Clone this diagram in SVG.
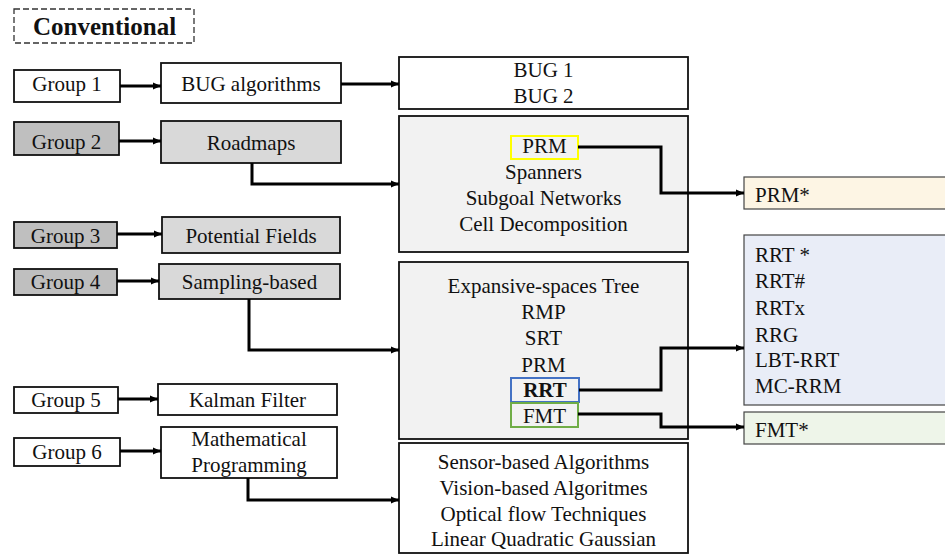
<svg xmlns="http://www.w3.org/2000/svg" width="945" height="555" viewBox="0 0 945 555">
  <defs>
    <marker id="arrow" markerUnits="userSpaceOnUse" markerWidth="9" markerHeight="8" refX="8" refY="4" orient="auto">
      <path d="M0,0.5 L8,4 L0,7.5 z" fill="#000"/>
    </marker>
    <style>
      text { font-family: "Liberation Serif", "Times New Roman", serif; font-size: 21px; fill: #111; }
      .c { text-anchor: middle; }
      .box { stroke: #111; stroke-width: 1.8; }
      .white { fill: #fff; }
      .dark { fill: #bfbfbf; }
      .mid { fill: #d9d9d9; }
      .light { fill: #f2f2f2; }
      .side { stroke: #444; stroke-width: 1.2; }
      .conn { fill: none; stroke: #000; stroke-width: 3; marker-end: url(#arrow); }
    </style>
  </defs>

  <rect width="945" height="555" fill="#fff"/>

  <!-- heading -->
  <g id="heading">
    <rect x="14" y="9" width="180" height="34" fill="none" stroke="#333" stroke-width="1.3" stroke-dasharray="6,3"/>
    <text x="33" y="35" style="font-size:25px;font-weight:bold">Conventional</text>
  </g>

  <!-- group labels -->
  <g id="group1"><rect class="box white" x="14" y="70" width="106" height="32"/><text class="c" x="67" y="91">Group 1</text></g>
  <g id="group2"><rect class="box dark" x="14" y="122" width="105" height="33"/><text class="c" x="66.5" y="149">Group 2</text></g>
  <g id="group3"><rect class="box dark" x="14" y="222" width="103" height="26"/><text class="c" x="65.5" y="243">Group 3</text></g>
  <g id="group4"><rect class="box dark" x="14" y="269" width="103" height="26"/><text class="c" x="65.5" y="289">Group 4</text></g>
  <g id="group5"><rect class="box white" x="14" y="387" width="104" height="26"/><text class="c" x="66" y="407">Group 5</text></g>
  <g id="group6"><rect class="box white" x="14" y="438" width="106" height="28"/><text class="c" x="67" y="459">Group 6</text></g>

  <!-- method families -->
  <g id="bug-algorithms"><rect class="box white" x="161" y="63" width="180" height="40"/><text class="c" x="251" y="91">BUG algorithms</text></g>
  <g id="roadmaps"><rect class="box mid" x="161" y="121" width="180" height="42"/><text class="c" x="251" y="150">Roadmaps</text></g>
  <g id="potential-fields"><rect class="box mid" x="162" y="217" width="178" height="36"/><text class="c" x="251" y="243">Potential Fields</text></g>
  <g id="sampling-based"><rect class="box mid" x="159" y="264" width="181" height="35"/><text class="c" x="249.5" y="289">Sampling-based</text></g>
  <g id="kalman-filter"><rect class="box white" x="158" y="384" width="179" height="31"/><text class="c" x="247.5" y="407">Kalman Filter</text></g>
  <g id="math-programming"><rect class="box white" x="161" y="427" width="176" height="51"/><text class="c" x="249" y="446">Mathematical</text><text class="c" x="249" y="472">Programming</text></g>

  <!-- detail lists -->
  <g id="bug-list">
    <rect class="box white" x="399" y="57" width="289" height="52"/>
    <text class="c" x="543.5" y="77">BUG 1</text>
    <text class="c" x="543.5" y="103">BUG 2</text>
  </g>
  <g id="roadmap-list">
    <rect class="box light" x="399" y="116" width="289" height="136"/>
    <rect x="511" y="136" width="67" height="23" fill="none" stroke="#ffff00" stroke-width="2"/>
    <text class="c" x="544.5" y="153">PRM</text>
    <text class="c" x="543.5" y="179">Spanners</text>
    <text class="c" x="543.5" y="205">Subgoal Networks</text>
    <text class="c" x="543.5" y="231">Cell Decomposition</text>
  </g>
  <g id="sampling-list">
    <rect class="box light" x="399" y="262" width="289" height="177"/>
    <text class="c" x="543.5" y="293">Expansive-spaces Tree</text>
    <text class="c" x="543.5" y="319">RMP</text>
    <text class="c" x="543.5" y="345">SRT</text>
    <text class="c" x="543.5" y="372">PRM</text>
    <rect x="511" y="378" width="68" height="24" fill="none" stroke="#4472c4" stroke-width="2"/>
    <text class="c" x="545" y="397" style="font-weight:bold">RRT</text>
    <rect x="511" y="403" width="67" height="24" fill="none" stroke="#70ad47" stroke-width="2"/>
    <text class="c" x="544.5" y="423">FMT</text>
  </g>
  <g id="other-list">
    <rect class="box white" x="399" y="443" width="289" height="110"/>
    <text class="c" x="543.5" y="469">Sensor-based Algorithms</text>
    <text class="c" x="543.5" y="495">Vision-based Algoritmes</text>
    <text class="c" x="543.5" y="521">Optical flow Techniques</text>
    <text class="c" x="543.5" y="546">Linear Quadratic Gaussian</text>
  </g>

  <!-- optimal variants -->
  <g id="prm-star">
    <rect class="side" x="744" y="177" width="210" height="32" fill="#fdf5e4"/>
    <text x="755" y="202">PRM*</text>
  </g>
  <g id="rrt-variants">
    <rect class="side" x="744" y="235" width="210" height="170" fill="#e9edf7"/>
    <text x="755" y="262">RRT *</text>
    <text x="755" y="288">RRT#</text>
    <text x="755" y="315">RRTx</text>
    <text x="755" y="342">RRG</text>
    <text x="755" y="367">LBT-RRT</text>
    <text x="755" y="393">MC-RRM</text>
  </g>
  <g id="fmt-star">
    <rect class="side" x="744" y="412" width="210" height="32" fill="#eef5e9"/>
    <text x="755" y="437">FMT*</text>
  </g>

  <!-- connectors -->
  <g id="connectors">
    <path class="conn" d="M120,86 H161"/>
    <path class="conn" d="M119,141 H161"/>
    <path class="conn" d="M117,234 H162"/>
    <path class="conn" d="M117,281 H159"/>
    <path class="conn" d="M118,399 H158"/>
    <path class="conn" d="M120,451 H161"/>

    <path class="conn" d="M341,84 H399"/>
    <path class="conn" d="M252,163 V184 H399"/>
    <path class="conn" d="M249,299 V350 H399"/>
    <path class="conn" d="M248,478 V500 H399"/>

    <path class="conn" d="M578,147 H661 V193 H744"/>
    <path class="conn" d="M579,390 H661 V348 H744"/>
    <path class="conn" d="M578,414 H661 V427 H744"/>
  </g>
</svg>
